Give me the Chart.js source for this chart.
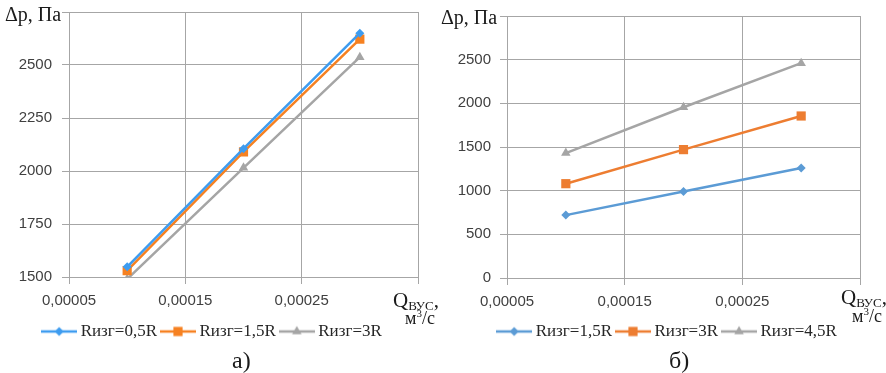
<!DOCTYPE html>
<html><head><meta charset="utf-8">
<script src="https://cdn.jsdelivr.net/npm/chart.js@4/dist/chart.umd.min.js"></script>
<style>
html,body{margin:0;padding:0;background:#fff;}
#wrap{position:relative;width:886px;height:373px;overflow:hidden;background:#fff;}
.cv{position:absolute;top:0;}
.t{position:absolute;font-family:"Liberation Serif",serif;color:#1a1a1a;line-height:1;white-space:nowrap;}
.sub{position:relative;top:3px;font-size:13px;}
.sup{position:relative;top:-7px;font-size:11px;}
</style></head><body>
<div id="wrap">
  <canvas id="c1" class="cv" style="left:0" width="436" height="355"></canvas>
  <canvas id="c2" class="cv" style="left:436px" width="450" height="355"></canvas>
  <div class="t" style="left:5px;top:4px;font-size:20px">Δp, Па</div>
  <div class="t" style="left:441px;top:7px;font-size:20px">Δp, Па</div>
  <div class="t" style="left:393px;top:290px;font-size:21px">Q<span class="sub">ВУС</span>,</div>
  <div class="t" style="left:405px;top:309px;font-size:18px">м<span class="sup">3</span>/с</div>
  <div class="t" style="left:841px;top:287px;font-size:21px">Q<span class="sub">ВУС</span>,</div>
  <div class="t" style="left:852px;top:307px;font-size:18px">м<span class="sup">3</span>/с</div>
  <div class="t" style="left:232px;top:348px;font-size:24px">а)</div>
  <div class="t" style="left:669px;top:348px;font-size:24px">б)</div>
</div>
<script>
// ---- data ----
const xValues = [0.0001, 0.0002, 0.0003];
const xTickValues = [0.00005, 0.00015, 0.00025, 0.00035];
const xTickLabels = ['0,00005', '0,00015', '0,00025', ''];

const leftLabels = ['Rизг=0,5R', 'Rизг=1,5R', 'Rизг=3R'];
const leftR05 = [1548, 2105, 2650];
const leftR15 = [1530, 2090, 2622];
const leftR3 = [1490, 2015, 2537];
const leftYTicks = [1500, 1750, 2000, 2250, 2500, 2750];
const leftYLabels = ['1500', '1750', '2000', '2250', '2500', ''];

const rightLabels = ['Rизг=1,5R', 'Rизг=3R', 'Rизг=4,5R'];
const rightR15 = [720, 990, 1260];
const rightR3 = [1080, 1470, 1855];
const rightR45 = [1430, 1955, 2460];
const rightYTicks = [0, 500, 1000, 1500, 2000, 2500, 3000];
const rightYLabels = ['0', '500', '1000', '1500', '2000', '2500', ''];

// ---- styling ----
const GRID = '#a6a6a6';
const TICKC = '#404040';

function drawMarker(ctx, style, r, x, y) {
  ctx.beginPath();
  if (style === 'rectRot') {
    ctx.moveTo(x, y - r); ctx.lineTo(x + r, y); ctx.lineTo(x, y + r); ctx.lineTo(x - r, y);
  } else if (style === 'rect') {
    const s = Math.SQRT1_2 * r;
    ctx.rect(x - s, y - s, 2 * s, 2 * s);
  } else if (style === 'triangle') {
    const h = r * 1.5, w = r * Math.sqrt(3);
    ctx.moveTo(x - w / 2, y + h / 3); ctx.lineTo(x + w / 2, y + h / 3); ctx.lineTo(x, y - 2 * h / 3);
  }
  ctx.closePath();
  ctx.fill();
}
function legendImg(color, style, r) {
  const c = document.createElement('canvas');
  c.width = 36; c.height = 14;
  const ctx = c.getContext('2d');
  ctx.strokeStyle = color; ctx.lineWidth = 2.5;
  ctx.beginPath(); ctx.moveTo(0, 7); ctx.lineTo(36, 7); ctx.stroke();
  ctx.fillStyle = color;
  drawMarker(ctx, style, r, 18, 7);
  return c;
}

const legendShift = {
  id: 'legendShift',
  afterLayout(chart, args, opts) {
    const l = chart.legend;
    if (l && opts.dx) { l.left += opts.dx; l.right += opts.dx; }
  }
};

function makeChart(id, cfg) {
  const styles = [['rectRot', 4.5], ['rect', 6.5], ['triangle', 5.5]];
  const imgs = cfg.series.map((s, i) => legendImg(cfg.colors[i], styles[i][0], styles[i][1]));
  const datasets = cfg.series.map((s, i) => ({
    label: cfg.labels[i],
    data: xValues.map((x, j) => ({x: x, y: s[j]})),
    borderColor: cfg.colors[i],
    backgroundColor: cfg.colors[i],
    borderWidth: 2.5,
    pointStyle: styles[i][0],
    pointRadius: styles[i][1],
    pointBorderWidth: 0,
    pointBackgroundColor: cfg.colors[i],
    tension: 0
  }));
  return new Chart(document.getElementById(id), {
    type: 'line',
    data: {datasets},
    plugins: [legendShift],
    options: {
      responsive: false,
      animation: false,
      devicePixelRatio: 1,
      layout: {padding: cfg.padding},
      scales: {
        x: {
          type: 'linear',
          min: xTickValues[0], max: xTickValues[xTickValues.length - 1],
          afterBuildTicks: s => { s.ticks = xTickValues.map(v => ({value: v})); },
          afterFit: s => { s.height = cfg.xHeight; },
          ticks: {callback: (v, i) => xTickLabels[i], font: {family: 'Liberation Sans', size: 15}, color: TICKC, padding: 8, maxRotation: 0, autoSkip: false},
          grid: {color: GRID, lineWidth: 1, tickLength: 7, drawTicks: true},
          border: {color: GRID, width: 1}
        },
        y: {
          type: 'linear',
          min: cfg.yTicks[0], max: cfg.yTicks[cfg.yTicks.length - 1],
          afterBuildTicks: s => { s.ticks = cfg.yTicks.map(v => ({value: v})); },
          afterFit: s => { s.width = cfg.yWidth; },
          ticks: {callback: (v, i) => cfg.yLabels[i], font: {family: 'Liberation Sans', size: 15, lineHeight: 0.2}, color: TICKC, padding: cfg.yPad, autoSkip: false},
          grid: {color: GRID, lineWidth: 1, tickLength: 7, drawTicks: true},
          border: {color: GRID, width: 1}
        }
      },
      plugins: {
        tooltip: {enabled: false},
        legendShift: {dx: cfg.legendDx},
        legend: {
          position: 'bottom',
          labels: {
            usePointStyle: true,
            pointStyleWidth: 26,
            padding: 8,
            color: '#262626',
            font: {family: 'Liberation Serif', size: 17},
            generateLabels: chart => Chart.defaults.plugins.legend.labels.generateLabels(chart)
              .map((l, i) => Object.assign(l, {pointStyle: imgs[i]}))
          }
        }
      }
    }
  });
}

makeChart('c1', {
  series: [leftR05, leftR15, leftR3],
  labels: leftLabels,
  colors: ['#3d9cf0', '#f68121', '#a5a5a5'],
  yTicks: leftYTicks, yLabels: leftYLabels,
  padding: {left: 0, right: 18, top: 12, bottom: 5},
  yWidth: 69, xHeight: 38, yPad: 10, legendDx: 5
});
makeChart('c2', {
  series: [rightR15, rightR3, rightR45],
  labels: rightLabels,
  colors: ['#5b9bd5', '#ed7d31', '#a5a5a5'],
  yTicks: rightYTicks, yLabels: rightYLabels,
  padding: {left: 0, right: 26, top: 16, bottom: 5},
  yWidth: 71, xHeight: 37, yPad: 9, legendDx: 21
});
</script>
</body></html>
